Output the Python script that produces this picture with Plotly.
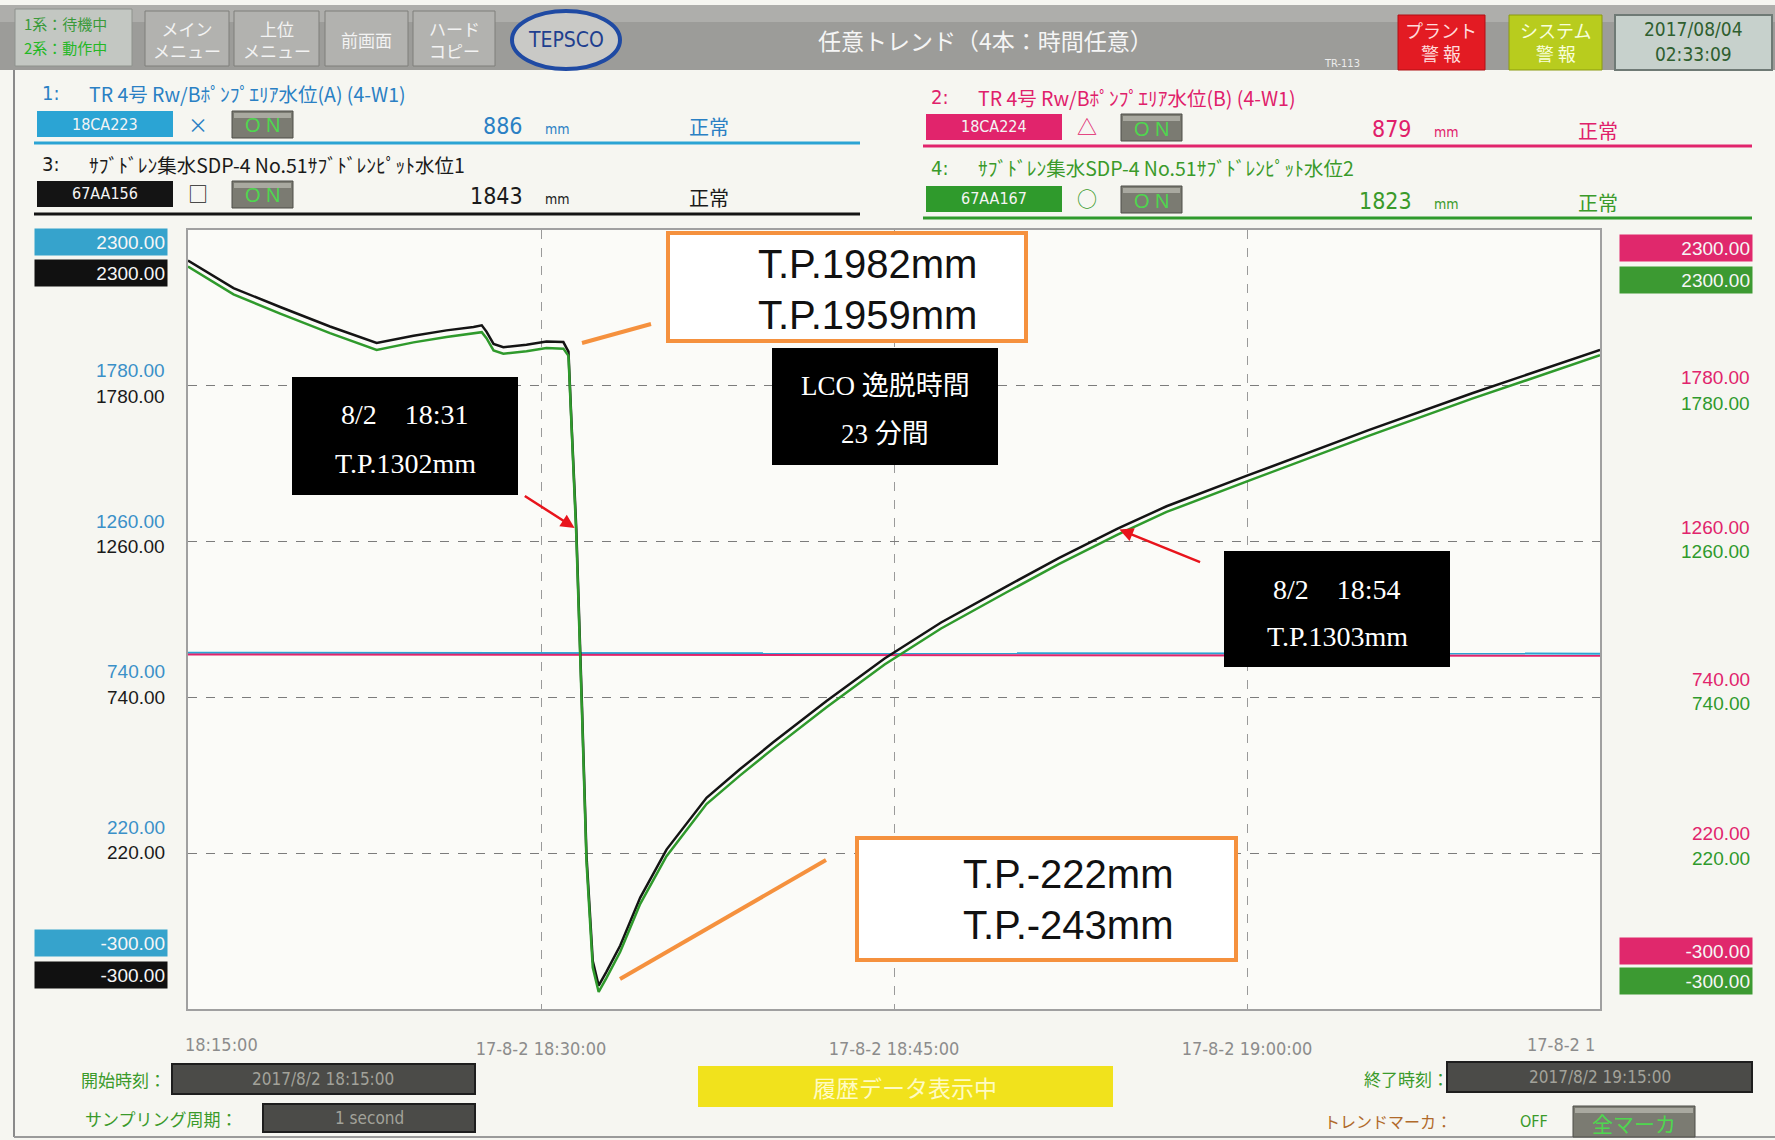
import plotly.graph_objects as go

# ---------------------------------------------------------------- data
DAY = "2017-08-02 "

# サブドレンピット水位 (67AA156 / 67AA167), mm
sdp_times = [
    "18:15:00", "18:16:00", "18:16:56", "18:18:55", "18:21:02", "18:23:01",
    "18:24:35", "18:25:59", "18:27:08", "18:27:29", "18:27:41", "18:27:59",
    "18:28:24", "18:29:23", "18:30:14", "18:30:57", "18:31:10", "18:31:18",
    "18:31:30", "18:31:44", "18:31:56", "18:32:12", "18:32:27", "18:32:47",
    "18:33:22", "18:34:13", "18:35:20", "18:37:02", "18:38:27", "18:39:52",
    "18:42:08", "18:44:36", "18:47:00", "18:49:46", "18:52:00", "18:54:30",
    "18:56:35", "19:00:00", "19:05:10", "19:09:34", "19:15:00",
]
sdp1_mm = [
    2198, 2150, 2106, 2043, 1978, 1923,
    1947, 1965, 1976, 1982, 1961, 1920,
    1909, 1917, 1928, 1926, 1894, 1650,
    1302, 731, 211, -140, -222, -175,
    -88, 72, 232, 405, 500, 590,
    728, 870, 990, 1110, 1205, 1303,
    1378, 1480, 1632, 1755, 1900,
]
sdp2_mm = [
    2178, 2130, 2085, 2021, 1956, 1900,
    1925, 1943, 1954, 1959, 1939, 1898,
    1887, 1895, 1906, 1904, 1880, 1630,
    1280, 710, 190, -162, -243, -196,
    -109, 51, 210, 384, 479, 569,
    707, 850, 970, 1090, 1185, 1283,
    1359, 1461, 1613, 1737, 1882,
]

# Rw/Bポンプエリア水位 (18CA223 / 18CA224), mm
rw_times = ["18:15:00", "18:30:00", "18:45:00", "19:00:00", "19:15:00"]
rw_a_mm = [889, 888, 887, 886, 886]
rw_b_mm = [883, 882, 881, 880, 879]

y_ticks = [2300, 1780, 1260, 740, 220, -300]
y_tick_text = ["2300.00", "1780.00", "1260.00", "740.00", "220.00", "-300.00"]
x_ticks = ["18:30:00", "18:45:00", "19:00:00"]
x_tick_text = ["17-8-2 18:30:00", "17-8-2 18:45:00", "17-8-2 19:00:00"]

# ---------------------------------------------------------------- colours / fonts
C_BLUE, C_PINK, C_BLACK, C_GREEN = "#2ba4d4", "#e1246c", "#141414", "#2f9a2c"
JP = "Noto Sans CJK JP"
NARROW = "DejaVu Sans Condensed, Noto Sans CJK JP, sans-serif"
SERIF = "Liberation Serif, Noto Sans CJK JP, serif"
SANS = "Liberation Sans, Arial, sans-serif"

# plot area in pixels
L, T, W, H = 188, 230, 1412, 779
FIG_W, FIG_H = 1775, 1140


def fx(x):
    return (x - L) / W


def fy(y):
    return 1 - (y - T) / H


shapes, notes = [], []


def rect(x0, y0, x1, y1, fill, line=None, lw=0):
    shapes.append(dict(type="rect", xref="paper", yref="paper",
                       x0=fx(x0), x1=fx(x1), y0=fy(y1), y1=fy(y0),
                       fillcolor=fill, layer="above",
                       line=dict(color=line or fill, width=lw)))


def seg(x0, y0, x1, y1, color, lw):
    shapes.append(dict(type="line", xref="paper", yref="paper",
                       x0=fx(x0), x1=fx(x1), y0=fy(y0), y1=fy(y1),
                       layer="above", line=dict(color=color, width=lw)))


def text(x, y, s, size, color, family=JP, anchor="left", **kw):
    notes.append(dict(xref="paper", yref="paper", x=fx(x), y=fy(y), text=s,
                      showarrow=False, xanchor=anchor, yanchor="middle",
                      font=dict(family=family, size=size, color=color), **kw))


def button(x0, y0, x1, y1, label, size, color, family=JP):
    # raised grey push-button: light top edge, dark body
    rect(x0, y0, x1, y1, "#7b7b72", "#4e4e48", 1)
    rect(x0 + 2, y0 + 2, x1 - 2, y0 + 7, "#a9a9a0")
    text((x0 + x1) / 2, (y0 + y1) / 2 + 1, label, size, color, family=family, anchor="center")


# ---------------------------------------------------------------- figure
fig = go.Figure()
fig.add_trace(go.Scatter(x=[DAY + t for t in rw_times], y=rw_a_mm, mode="lines",
                         line=dict(color=C_BLUE, width=2), name="18CA223"))
fig.add_trace(go.Scatter(x=[DAY + t for t in rw_times], y=rw_b_mm, mode="lines",
                         line=dict(color=C_PINK, width=2), name="18CA224"))
fig.add_trace(go.Scatter(x=[DAY + t for t in sdp_times], y=sdp1_mm, mode="lines",
                         line=dict(color=C_BLACK, width=2.5), name="67AA156"))
fig.add_trace(go.Scatter(x=[DAY + t for t in sdp_times], y=sdp2_mm, mode="lines",
                         line=dict(color=C_GREEN, width=2.5), name="67AA167"))

# ---------------------------------------------------------------- top bar
rect(0, 5, FIG_W, 70, "#9c9c99")
rect(0, 5, FIG_W, 22, "#aeaeab")
rect(15, 9, 132, 66, "#c3c7c2", "#8e928d", 1)
text(22, 24, "1系：待機中", 15, "#3a9a3a")
text(22, 47, "2系：動作中", 15, "#25b825")
for (bx0, bx1, lab) in [(145, 229, "メイン<br>メニュー"), (234, 319, "上位<br>メニュー"),
                        (325, 408, "前画面"), (413, 495, "ハード<br>コピー")]:
    rect(bx0, 11, bx1, 66, "#b2b2af", "#7e7e7b", 1)
    text((bx0 + bx1) / 2, 39, lab, 17, "#f3f3f3", anchor="center")
shapes.append(dict(type="circle", xref="paper", yref="paper",
                   x0=fx(512), x1=fx(620), y0=fy(69), y1=fy(11),
                   fillcolor="#c9c9c6", layer="above",
                   line=dict(color="#1f4aa3", width=4)))
text(566, 40, "TEPSCO", 21, "#1f3f8f", family=NARROW, anchor="center")
text(985, 40, "任意トレンド（4本：時間任意）", 23, "#f5f5f5", anchor="center")
text(1342, 63, "TR-113", 11, "#ececec", family=NARROW, anchor="center")
rect(1398, 15, 1485, 70, "#e31b23", "#b01015", 1)
text(1441, 42, "プラント<br>警 報", 18, "#ffdcdc", anchor="center")
rect(1509, 15, 1602, 70, "#b8cc1e", "#8a9a10", 1)
text(1555, 42, "システム<br>警 報", 18, "#f8ffdc", anchor="center")
rect(1615, 15, 1772, 70, "#c7d1cc", "#6f7a75", 2)
text(1693, 42, "2017/08/04<br>02:33:09", 19, "#2f5f2f", family=NARROW, anchor="center")

# outer frame of the panel
seg(14, 70, 14, 1137, "#8a8a8a", 2)
seg(14, 1137, FIG_W, 1137, "#9a9a9a", 2)

# ---------------------------------------------------------------- point header rows
rows = [
    # x0, title y, box y0, colour, no., title, tag, mark, value, underline y, text colour
    (37, 93, 111, C_BLUE, "1:", "TR 4号 Rw/Bﾎﾟﾝﾌﾟｴﾘｱ水位(A) (4-W1)", "18CA223", "×", "886", 143, "#2a80c4"),
    (37, 164, 181, C_BLACK, "3:", "ｻﾌﾞﾄﾞﾚﾝ集水SDP-4 No.51ｻﾌﾞﾄﾞﾚﾝﾋﾟｯﾄ水位1", "67AA156", "□", "1843", 214, "#1a1a1a"),
    (926, 97, 114, C_PINK, "2:", "TR 4号 Rw/Bﾎﾟﾝﾌﾟｴﾘｱ水位(B) (4-W1)", "18CA224", "△", "879", 146, "#e0206a"),
    (926, 168, 186, C_GREEN, "4:", "ｻﾌﾞﾄﾞﾚﾝ集水SDP-4 No.51ｻﾌﾞﾄﾞﾚﾝﾋﾟｯﾄ水位2", "67AA167", "○", "1823", 218, "#3a9a2a"),
]
for (x0, ty, by, col, no, title, tag, mark, val, uy, tcol) in rows:
    text(x0 + 3, ty, no, 20, tcol, family=NARROW)
    text(x0 + 50, ty, title, 19.5, tcol)
    rect(x0, by, x0 + 136, by + 26, col)
    text(x0 + 68, by + 13, tag, 16, "#f4f4f4", family=NARROW, anchor="center")
    text(x0 + 161, by + 13, mark, 20, tcol, anchor="center")
    button(x0 + 195, by, x0 + 256, by + 27, "O N", 20, "#4fd64f", family=SANS)
    text(x0 + 488, by + 15, val, 23, tcol, family=NARROW, anchor="right")
    text(x0 + 506, by + 18, "mm", 14, tcol, family=NARROW)
    text(x0 + 650, by + 16, "正常", 20, tcol)
    seg(x0 - 3, uy, x0 + 823 if x0 < 500 else 1752, uy, col, 3)

# ---------------------------------------------------------------- y-axis scale labels
left_shift_a = [-12, 15, 20, 26, 26, 66]
left_shift_b = [-43, -11, -5, 0, 1, 34]
right_shift_a = [-18, 8, 14, 18, 20, 58]
right_shift_b = [-50, -18, -10, -6, -5, 28]
for i, (v, s) in enumerate(zip(y_ticks, y_tick_text)):
    boxed = v in (2300, -300)
    for xpos, shift, col, bg in [
        (168, left_shift_a[i], C_BLUE, "#36a3cc"),
        (168, left_shift_b[i], "#1a1a1a", "#111111"),
        (1753, right_shift_a[i], C_PINK, "#e0286c"),
        (1753, right_shift_b[i], C_GREEN, "#3c9a32"),
    ]:
        notes.append(dict(
            xref="paper", yref="y", x=fx(xpos), y=v, yshift=shift, text=s,
            showarrow=False, xanchor="right", yanchor="middle", align="right",
            width=128 if boxed else None, height=22 if boxed else None,
            bgcolor=bg if boxed else None, borderpad=2,
            font=dict(family=SANS, size=19,
                      color="#f6f6f6" if boxed else ("#3a90c8" if col == C_BLUE else col))))

# clipped end labels of the time axis
text(183, 1044, "18:15:00", 18, "#8c8c8c", family=NARROW)
text(1525, 1044, "17-8-2 1", 18, "#8c8c8c", family=NARROW)

# ---------------------------------------------------------------- bottom controls
text(79, 1079, "開始時刻：", 17, "#3a9a2a")
rect(172, 1064, 475, 1094, "#4b4b48", "#1e1e1e", 2)
text(323, 1079, "2017/8/2 18:15:00", 17, "#a2a29a", family=NARROW, anchor="center")
text(83, 1118, "サンプリング周期：", 17, "#3a9a2a")
rect(263, 1104, 475, 1132, "#4b4b48", "#1e1e1e", 2)
text(369, 1118, "1 second", 17, "#a2a29a", family=NARROW, anchor="center")
rect(698, 1066, 1113, 1107, "#f1e21c")
text(905, 1087, "履歴データ表示中", 23, "#fffbc2", anchor="center")
text(1362, 1078, "終了時刻：", 17, "#3a9a2a")
rect(1447, 1062, 1752, 1092, "#4b4b48", "#1e1e1e", 2)
text(1600, 1077, "2017/8/2 19:15:00", 17, "#a2a29a", family=NARROW, anchor="center")
text(1322, 1121, "トレンドマーカ：", 16, "#b06a2a")
text(1518, 1121, "OFF", 16, "#3a9a2a", family=NARROW)
button(1573, 1106, 1695, 1137, "全マーカ", 21, "#4fd64f")

# ---------------------------------------------------------------- call-out boxes
# orange boxes with T.P. values
rect(668, 233, 1026, 341, "#ffffff", "#f5913e", 4)
text(867, 264, "T.P.1982mm", 40, "#111111", family=SANS, anchor="center")
text(867, 315, "T.P.1959mm", 40, "#111111", family=SANS, anchor="center")
seg(582, 343, 651, 324, "#f5913e", 4)

rect(857, 838, 1236, 960, "#ffffff", "#f5913e", 4)
text(1068, 874, "T.P.-222mm", 40, "#111111", family=SANS, anchor="center")
text(1068, 925, "T.P.-243mm", 40, "#111111", family=SANS, anchor="center")
seg(620, 979, 826, 860, "#f5913e", 4)

# black boxes
rect(292, 377, 518, 495, "#000000")
text(405, 414, "8/2　18:31", 28, "#ffffff", family=SERIF, anchor="center")
text(405, 463, "T.P.1302mm", 28, "#ffffff", family=SERIF, anchor="center")

rect(772, 348, 998, 465, "#000000")
text(885, 386, "LCO 逸脱時間", 27, "#ffffff", family=SERIF, anchor="center")
text(885, 434, "23 分間", 27, "#ffffff", family=SERIF, anchor="center")

rect(1224, 551, 1450, 667, "#000000")
text(1337, 589, "8/2　18:54", 28, "#ffffff", family=SERIF, anchor="center")
text(1337, 636, "T.P.1303mm", 28, "#ffffff", family=SERIF, anchor="center")

# red arrows pointing at the LCO crossings
for (t, v, ax, ay) in [("18:31:30", 1302, -53, -34), ("18:54:30", 1303, 84, 34)]:
    notes.append(dict(xref="x", yref="y", x=DAY + t, y=v, text="", showarrow=True,
                      ax=ax, ay=ay, arrowhead=2, arrowsize=1.1, arrowwidth=2.5,
                      arrowcolor="#e8141c", standoff=2))

fig.update_layout(
    width=FIG_W, height=FIG_H, autosize=False,
    margin=dict(l=L, r=FIG_W - L - W, t=T, b=FIG_H - T - H),
    paper_bgcolor="#f6f6f1", plot_bgcolor="#fbfbf8",
    showlegend=False, shapes=shapes, annotations=notes,
    xaxis=dict(type="date", range=[DAY + "18:15:00", DAY + "19:15:00"],
               tickvals=[DAY + t for t in x_ticks], ticktext=x_tick_text,
               ticks="outside", ticklen=22, tickcolor="rgba(0,0,0,0)",
               tickfont=dict(family=NARROW, size=18, color="#8c8c8c"),
               showgrid=True, gridcolor="#9a9a9a", griddash="dash", gridwidth=1,
               showline=True, mirror=True, linecolor="#a0a0a0", linewidth=2,
               zeroline=False, fixedrange=True),
    yaxis=dict(range=[-300, 2300], tickvals=[220, 740, 1260, 1780],
               showticklabels=False, ticks="",
               showgrid=True, gridcolor="#7c7c7c", griddash="dash", gridwidth=1,
               showline=True, mirror=True, linecolor="#a0a0a0", linewidth=2,
               zeroline=False, fixedrange=True),
)

fig.write_html("out.html")
